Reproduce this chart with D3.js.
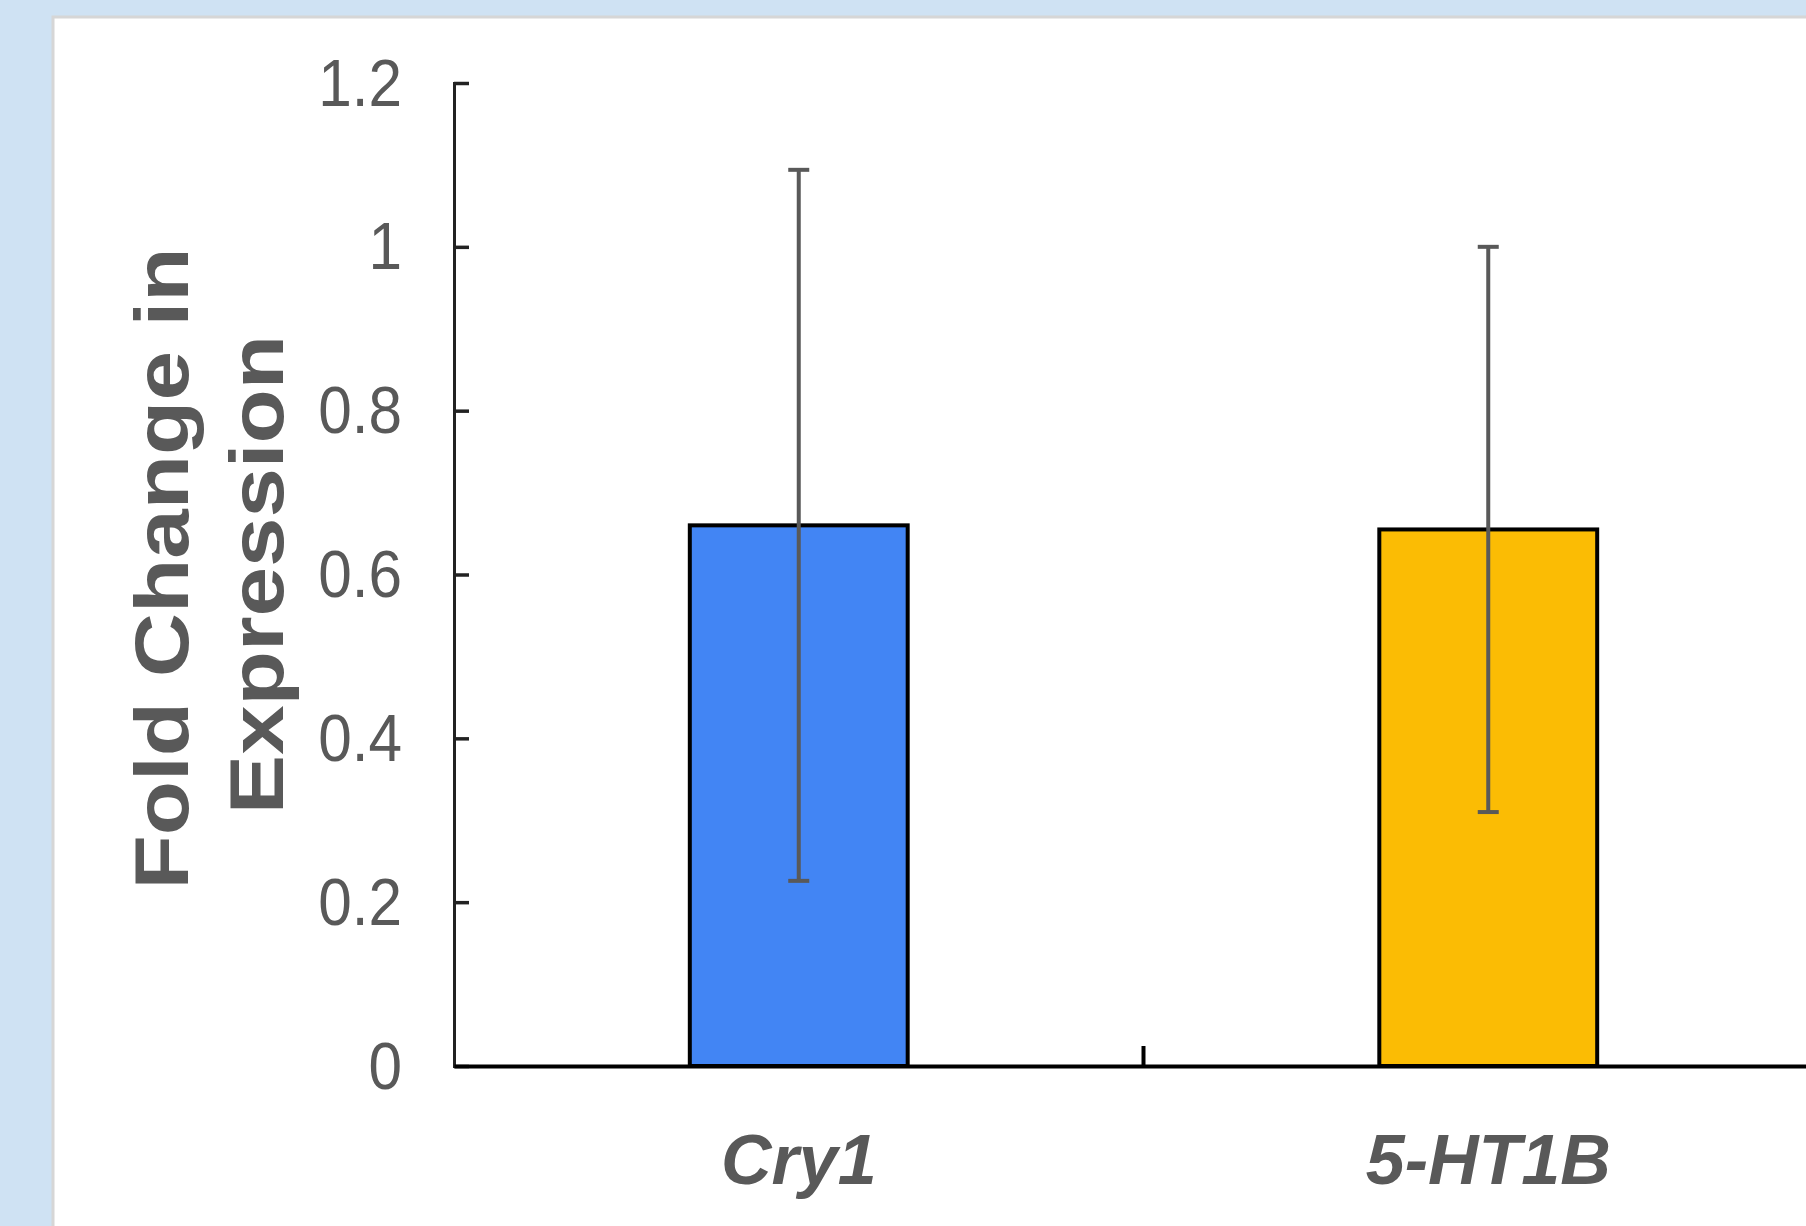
<!DOCTYPE html>
<html>
<head>
<meta charset="utf-8">
<script src="https://cdn.jsdelivr.net/npm/d3@7/dist/d3.min.js"></script>
<style>
  html, body { margin: 0; padding: 0; background: #cfe2f3; overflow: hidden; }
  svg { display: block; }
  text { font-family: "Liberation Sans", Arial, sans-serif; fill: #595959; }
</style>
</head>
<body>
<div id="chart"></div>
<script>
// data ---------------
const genes = ['Cry1', '5-HT1B'];
const foldChange = [0.66, 0.655];
const errors = [0.434, 0.345];
const barColors = ['#4285f4', '#fbbc04'];
const yTicks = [0, 0.2, 0.4, 0.6, 0.8, 1, 1.2];

const W = 1806, H = 1226;
const margin = {
  panelX: 53,
  panelY: 17,
  left: 454,
  top: 83,
  bottom: 1066,
  bandStep: 689.5
};

const svg = d3.select('#chart').append('svg')
  .attr('width', W)
  .attr('height', H);

// white panel with grey edge
svg.append('rect')
  .attr('x', margin.panelX)
  .attr('y', margin.panelY)
  .attr('width', W + 20)
  .attr('height', H + 20)
  .attr('fill', '#fff')
  .attr('stroke', '#d6d6d6')
  .attr('stroke-width', 3);

const y = d3.scaleLinear()
  .domain([0, 1.2])
  .range([margin.bottom, margin.top]);

const x = d3.scaleBand()
  .domain(genes)
  .range([margin.left, margin.left + margin.bandStep * genes.length]);

const barW = x.bandwidth() * 0.316;

// y axis (ticks point inward)
const yAxis = d3.axisRight(y)
  .tickValues(yTicks)
  .tickSize(15)
  .tickFormat(d3.format('~g'));

const gy = svg.append('g')
  .attr('transform', `translate(${margin.left},0)`)
  .call(yAxis);
gy.select('.domain').attr('stroke', '#222').attr('stroke-width', 3);
gy.selectAll('.tick line').attr('stroke', '#222').attr('stroke-width', 3.5);
gy.selectAll('.tick text')
  .attr('x', 0)
  .attr('dy', null)
  .attr('text-anchor', 'end')
  .attr('dominant-baseline', 'central')
  .attr('transform', 'translate(-52,-1) scale(0.9,1)')
  .style('font-size', '67px');

// bars
svg.selectAll('.bar')
  .data(genes)
  .enter()
  .append('rect')
    .attr('class', 'bar')
    .attr('x', d => x(d) + x.bandwidth() / 2 - barW / 2)
    .attr('y', (d, i) => y(foldChange[i]))
    .attr('width', barW)
    .attr('height', (d, i) => y(0) - y(foldChange[i]))
    .attr('fill', (d, i) => barColors[i])
    .attr('stroke', '#000')
    .attr('stroke-width', 4);

// x axis (drawn after bars so the line sits on top)
const xAxis = d3.axisTop(x)
  .tickSize(0)
  .tickFormat('');
const gx = svg.append('g')
  .attr('transform', `translate(0,${margin.bottom})`)
  .call(xAxis);
gx.select('.domain').attr('stroke', '#000').attr('stroke-width', 4);
gx.selectAll('.tick').remove();

// band separators
gx.selectAll('.sep')
  .data(genes.slice(1))
  .enter()
  .append('line')
    .attr('x1', d => x(d))
    .attr('x2', d => x(d))
    .attr('y1', 0)
    .attr('y2', -20)
    .attr('stroke', '#000')
    .attr('stroke-width', 4);

// error bars
const err = svg.selectAll('.err')
  .data(genes)
  .enter()
  .append('g')
    .attr('class', 'err')
    .attr('stroke', '#595959')
    .attr('stroke-width', 4);

err.append('line')
  .attr('x1', d => x(d) + x.bandwidth() / 2)
  .attr('x2', d => x(d) + x.bandwidth() / 2)
  .attr('y1', (d, i) => y(foldChange[i] + errors[i]))
  .attr('y2', (d, i) => y(foldChange[i] - errors[i]));

[1, -1].forEach(s => {
  err.append('line')
    .attr('x1', d => x(d) + x.bandwidth() / 2 - 10.5)
    .attr('x2', d => x(d) + x.bandwidth() / 2 + 10.5)
    .attr('y1', (d, i) => y(foldChange[i] + s * errors[i]))
    .attr('y2', (d, i) => y(foldChange[i] + s * errors[i]));
});

// category labels
svg.selectAll('.xlabel')
  .data(genes)
  .enter()
  .append('text')
    .attr('class', 'xlabel')
    .attr('text-anchor', 'middle')
    .attr('transform', d => `translate(${x(d) + x.bandwidth() / 2},1184)`)
    .style('font-size', '70px')
    .style('font-weight', 'bold')
    .style('font-style', 'italic')
    .text(d => d);

// y title, two lines
const titleLines = ['Fold Change in', 'Expression'];
const midY = (margin.top + margin.bottom) / 2;
svg.selectAll('.ytitle')
  .data(titleLines)
  .enter()
  .append('text')
    .attr('class', 'ytitle')
    .attr('text-anchor', 'middle')
    .attr('transform', (d, i) => `translate(${188 + i * 95},${midY - 6 + i * 6}) rotate(-90) scale(1.17,1)`)
    .style('font-size', '76px')
    .style('font-weight', 'bold')
    .text(d => d);
</script>
</body>
</html>
